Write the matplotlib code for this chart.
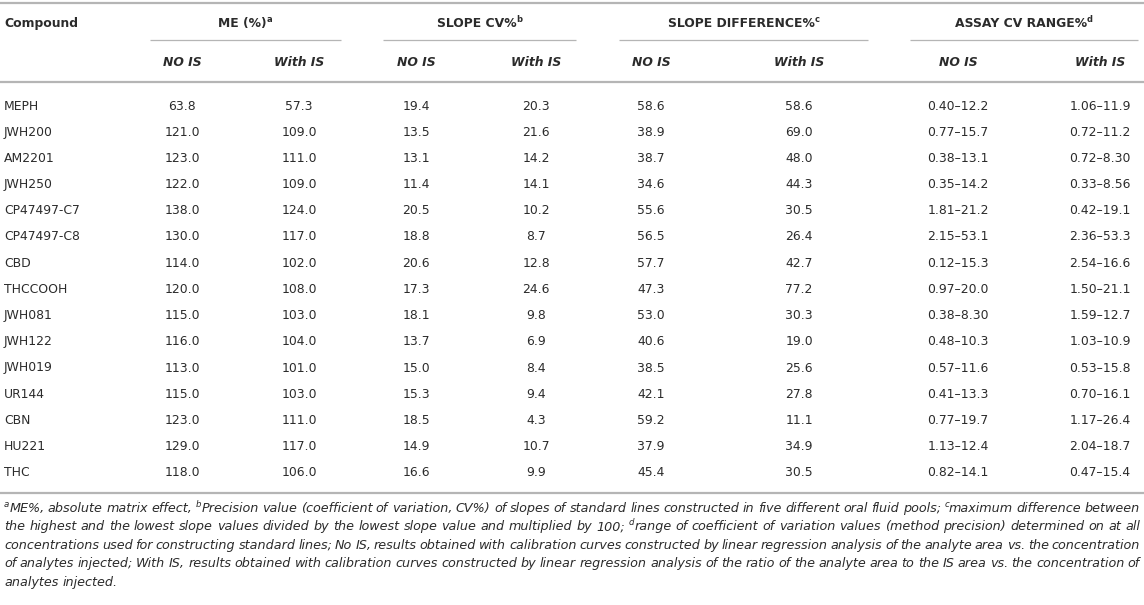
import matplotlib
matplotlib.use("Agg")
import matplotlib.pyplot as plt

plt.rcParams['font.family'] = ['DejaVu Sans']

compounds = ["MEPH", "JWH200", "AM2201", "JWH250", "CP47497-C7", "CP47497-C8", "CBD",
             "THCCOOH", "JWH081", "JWH122", "JWH019", "UR144", "CBN", "HU221", "THC"]
me_no = [63.8, 121.0, 123.0, 122.0, 138.0, 130.0, 114.0, 120.0, 115.0, 116.0, 113.0, 115.0, 123.0, 129.0, 118.0]
me_with = [57.3, 109.0, 111.0, 109.0, 124.0, 117.0, 102.0, 108.0, 103.0, 104.0, 101.0, 103.0, 111.0, 117.0, 106.0]
cv_no = [19.4, 13.5, 13.1, 11.4, 20.5, 18.8, 20.6, 17.3, 18.1, 13.7, 15.0, 15.3, 18.5, 14.9, 16.6]
cv_with = [20.3, 21.6, 14.2, 14.1, 10.2, 8.7, 12.8, 24.6, 9.8, 6.9, 8.4, 9.4, 4.3, 10.7, 9.9]
diff_no = [58.6, 38.9, 38.7, 34.6, 55.6, 56.5, 57.7, 47.3, 53.0, 40.6, 38.5, 42.1, 59.2, 37.9, 45.4]
diff_with = [58.6, 69.0, 48.0, 44.3, 30.5, 26.4, 42.7, 77.2, 30.3, 19.0, 25.6, 27.8, 11.1, 34.9, 30.5]
range_no = ["0.40–12.2", "0.77–15.7", "0.38–13.1", "0.35–14.2", "1.81–21.2", "2.15–53.1", "0.12–15.3",
            "0.97–20.0", "0.38–8.30", "0.48–10.3", "0.57–11.6", "0.41–13.3", "0.77–19.7", "1.13–12.4", "0.82–14.1"]
range_with = ["1.06–11.9", "0.72–11.2", "0.72–8.30", "0.33–8.56", "0.42–19.1", "2.36–53.3", "2.54–16.6",
              "1.50–21.1", "1.59–12.7", "1.03–10.9", "0.53–15.8", "0.70–16.1", "1.17–26.4", "2.04–18.7", "0.47–15.4"]

groups = [("ME (%)", "a"), ("SLOPE CV%", "b"), ("SLOPE DIFFERENCE%", "c"), ("ASSAY CV RANGE%", "d")]
sub_labels = ["NO IS", "With IS"]

footnote = [
    "^aME%, absolute matrix effect, ^bPrecision value (coefficient of variation, CV%) of slopes of standard lines constructed in five different oral fluid pools; ^cmaximum difference between",
    "the highest and the lowest slope values divided by the lowest slope value and multiplied by 100; ^drange of coefficient of variation values (method precision) determined on at all",
    "concentrations used for constructing standard lines; No IS, results obtained with calibration curves constructed by linear regression analysis of the analyte area vs. the concentration",
    "of analytes injected; With IS, results obtained with calibration curves constructed by linear regression analysis of the ratio of the analyte area to the IS area vs. the concentration of",
    "analytes injected.",
]

TXT = "#2b2b2b"
RULE = "#b5b5b5"
FS = 8.9
FN = 9.2

W, H = 1144, 605
fig = plt.figure(figsize=(W / 100, H / 100), dpi=100)
ax = fig.add_axes([0, 0, 1, 1])
ax.set_xlim(0, W)
ax.set_ylim(H, 0)
ax.axis('off')
rend = fig.canvas.get_renderer()


def wid(t):
    return t.get_window_extent(rend).width


def make_word(word, y, size, **kw):
    # a word may start with ^x, x is then a superscript
    parts = []
    if word.startswith("^"):
        parts.append((word[1], True))
        word = word[2:]
    if word:
        parts.append((word, False))
    arts = []
    for s, sup in parts:
        fs = size * 0.68 if sup else size
        dy = -size * 0.55 if sup else 0
        t = ax.text(0, y + dy, s, fontsize=fs, va='baseline', ha='left', color=TXT, **kw)
        arts.append(t)
    return arts


def place(arts, x):
    for t in arts:
        t.set_x(x)
        x += wid(t)
    return x


def seg_text(x, y, main, sup, size=FS, **kw):
    arts = make_word(main, y, size, **kw)
    if sup:
        arts += make_word("^" + sup, y, size, **kw)
    total = sum(wid(t) for t in arts)
    place(arts, x - total / 2)


# rules
for yl in [3, 82, 493]:
    ax.plot([0, W], [yl, yl], color=RULE, lw=1.6, solid_capstyle='butt')

col_x = [182, 299, 416, 536, 651, 799, 958, 1100]
under = [(150, 341), (383, 576), (619, 868), (910, 1138)]

ax.text(4, 27, "Compound", fontsize=FS, fontweight='bold', va='baseline', ha='left', color=TXT)
for (name, sup), (u0, u1) in zip(groups, under):
    seg_text((u0 + u1) / 2, 27, name, sup, fontweight='bold')
    ax.plot([u0, u1], [40, 40], color=RULE, lw=0.9, solid_capstyle='butt')
for i, cx in enumerate(col_x):
    ax.text(cx, 66.5, sub_labels[i % 2], fontsize=FS, fontweight='bold', style='italic',
            va='baseline', ha='center', color=TXT)

# body rows
cols = [me_no, me_with, cv_no, cv_with, diff_no, diff_with, range_no, range_with]
for r, name in enumerate(compounds):
    yb = 105 + r * 26.2 + 4.5
    ax.text(4, yb, name, fontsize=FS, va='baseline', ha='left', color=TXT)
    for cx, col in zip(col_x, cols):
        v = col[r]
        s = v if isinstance(v, str) else f"{v:.1f}"
        ax.text(cx, yb, s, fontsize=FS, va='baseline', ha='center', color=TXT)

# footnote, justified to the table width
fx0, fx1 = 4, 1140
probe = [ax.text(0, 0, s, fontsize=FN, style='italic') for s in ("a a", "a")]
space_w = wid(probe[0]) - 2 * wid(probe[1])
for t in probe:
    t.remove()
for i, line in enumerate(footnote):
    yb = 512 + i * 18.4
    words = [make_word(w, yb, FN, style='italic') for w in line.split(" ")]
    widths = [sum(wid(t) for t in w) for w in words]
    if i < len(footnote) - 1:
        gap = (fx1 - fx0 - sum(widths)) / (len(words) - 1)
    else:
        gap = space_w
    x = fx0
    for w, wd in zip(words, widths):
        place(w, x)
        x += wd + gap

fig.savefig("out.png", dpi=100)
